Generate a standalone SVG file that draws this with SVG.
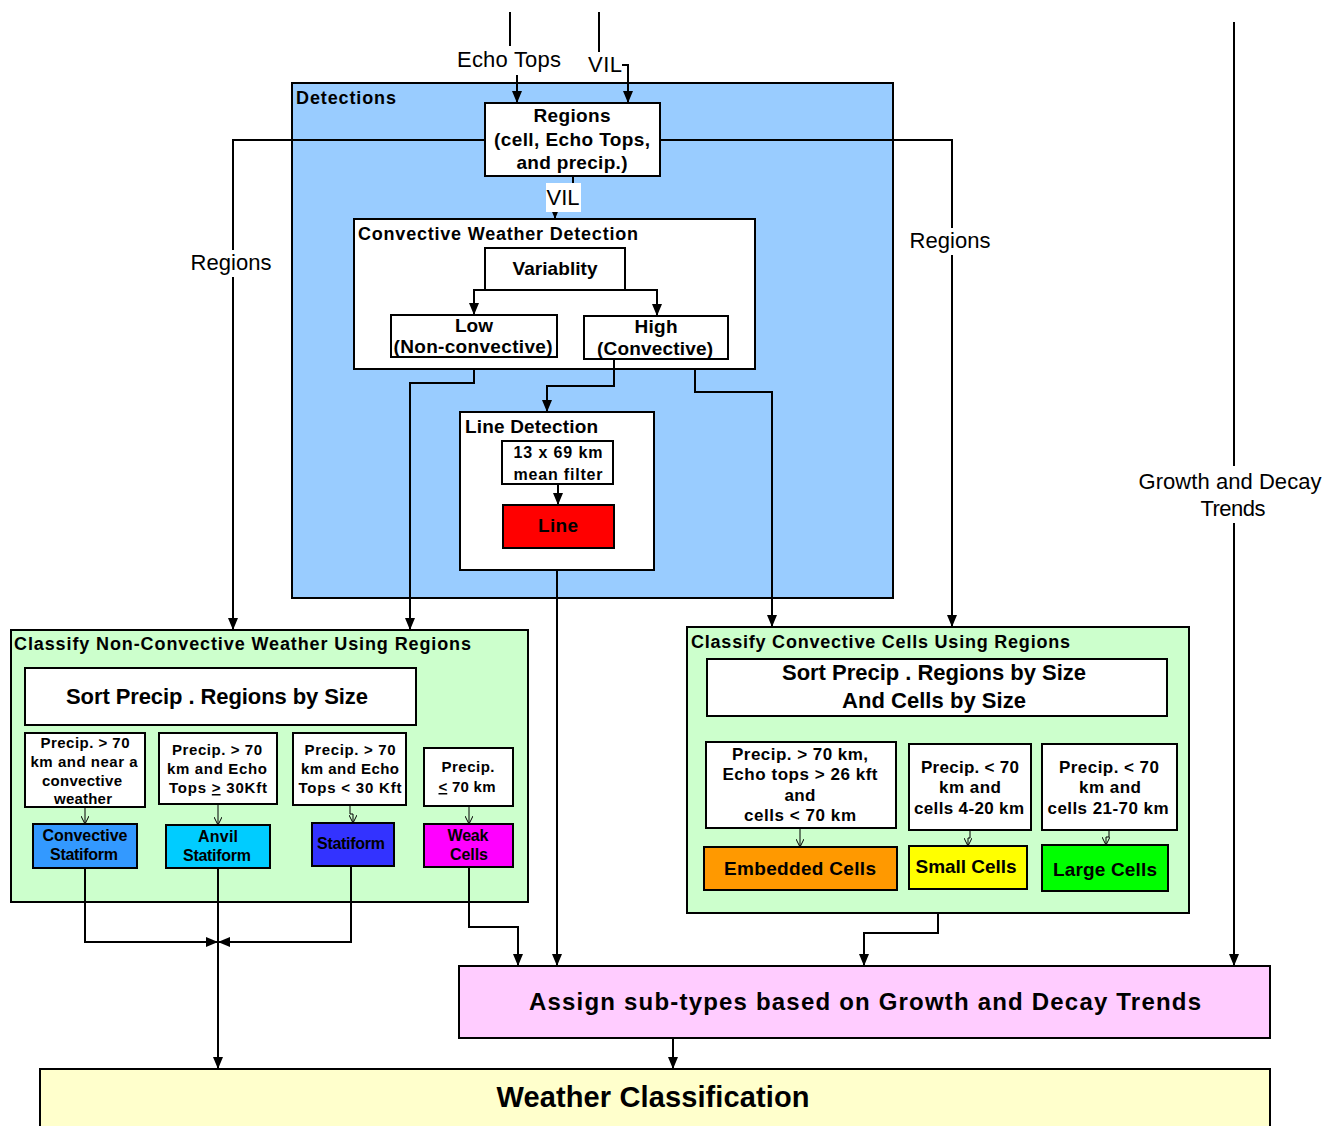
<svg xmlns="http://www.w3.org/2000/svg" width="1325" height="1126" viewBox="0 0 1325 1126">
<style>
.box{stroke:#000;stroke-width:2}
.w{fill:#fff}
.c{fill:none;stroke:#000;stroke-width:2}
.t{stroke:#000;stroke-width:1;fill:none}
.b{font-family:"Liberation Sans",Arial,sans-serif;font-weight:bold;fill:#000}
.r{font-family:"Liberation Sans",Arial,sans-serif;fill:#000;font-size:22px}
.m{text-anchor:middle}
</style>
<defs>
<marker id="ah" viewBox="0 0 12 10" refX="12" refY="5" markerWidth="12" markerHeight="10" markerUnits="userSpaceOnUse" orient="auto"><path d="M0,0 L12,5 L0,10 z" fill="#000"/></marker>
<marker id="sa" viewBox="0 0 8 8" refX="8" refY="4" markerWidth="8" markerHeight="8" markerUnits="userSpaceOnUse" orient="auto"><path d="M0,0 L8,4 L0,8" fill="none" stroke="#000" stroke-width="1"/></marker>
</defs>
<rect width="1325" height="1126" fill="#fff"/>

<g id="detections">
<rect class="box" x="292" y="83" width="601" height="515" fill="#99CCFF"/>
<text class="b" x="296" y="104" font-size="18" textLength="100" lengthAdjust="spacing">Detections</text>
</g>

<g id="regions">
<rect class="box w" x="485" y="103" width="175" height="73"/>
<text class="b m" x="572" y="122" font-size="19" textLength="77" lengthAdjust="spacing">Regions</text>
<text class="b m" x="572" y="146" font-size="19" textLength="156" lengthAdjust="spacing">(cell, Echo Tops,</text>
<text class="b m" x="572" y="169" font-size="19" textLength="111" lengthAdjust="spacing">and precip.)</text>
</g>

<g id="convective-weather-detection">
<rect class="box w" x="354" y="219" width="401" height="150"/>
<text class="b" x="358" y="240" font-size="18" textLength="280" lengthAdjust="spacing">Convective Weather Detection</text>
</g>
<g id="variability">
<rect class="box w" x="485" y="248" width="140" height="42"/>
<text class="b m" x="555" y="275" font-size="19" textLength="85" lengthAdjust="spacing">Variablity</text>
</g>
<g id="low">
<rect class="box w" x="391" y="315" width="166" height="42"/>
<text class="b m" x="474" y="332" font-size="19" textLength="38" lengthAdjust="spacing">Low</text>
<text class="b m" x="473" y="353" font-size="19" textLength="159" lengthAdjust="spacing">(Non-convective)</text>
</g>
<g id="high">
<rect class="box w" x="584" y="316" width="144" height="43"/>
<text class="b m" x="656" y="333" font-size="19" textLength="43" lengthAdjust="spacing">High</text>
<text class="b m" x="655" y="355" font-size="19" textLength="116" lengthAdjust="spacing">(Convective)</text>
</g>

<g id="line-detection">
<rect class="box w" x="460" y="412" width="194" height="158"/>
<text class="b" x="465" y="433" font-size="19" textLength="133" lengthAdjust="spacing">Line Detection</text>
</g>
<g id="mean-filter">
<rect class="box w" x="502" y="441" width="111" height="43"/>
<text class="b m" x="558" y="458" font-size="16" textLength="89" lengthAdjust="spacing">13 x 69 km</text>
<text class="b m" x="558" y="480" font-size="16" textLength="89" lengthAdjust="spacing">mean filter</text>
</g>
<g id="line">
<rect class="box" x="503" y="505" width="111" height="43" fill="#FF0000"/>
<text class="b m" x="558" y="532" font-size="19" textLength="40" lengthAdjust="spacing">Line</text>
</g>

<g id="classify-non-convective">
<rect class="box" x="11" y="630" width="517" height="272" fill="#CCFFCC"/>
<text class="b" x="14" y="650" font-size="18" textLength="457" lengthAdjust="spacing">Classify Non-Convective Weather Using Regions</text>
</g>
<g id="sort-left">
<rect class="box w" x="25" y="668" width="391" height="57"/>
<text class="b m" x="217" y="704" font-size="22" textLength="302" lengthAdjust="spacing">Sort Precip . Regions by Size</text>
</g>
<g id="nc1">
<rect class="box w" x="25" y="733" width="120" height="74"/>
<text class="b m" x="85" y="748" font-size="15" textLength="89" lengthAdjust="spacing">Precip. &gt; 70</text>
<text class="b m" x="84" y="767" font-size="15" textLength="107" lengthAdjust="spacing">km and near a</text>
<text class="b m" x="82" y="786" font-size="15" textLength="80" lengthAdjust="spacing">convective</text>
<text class="b m" x="83" y="804" font-size="15" textLength="58" lengthAdjust="spacing">weather</text>
</g>
<g id="nc2">
<rect class="box w" x="159" y="733" width="118" height="71"/>
<text class="b m" x="217" y="755" font-size="15" textLength="90" lengthAdjust="spacing">Precip. &gt; 70</text>
<text class="b m" x="217" y="774" font-size="15" textLength="100" lengthAdjust="spacing">km and Echo</text>
<text class="b m" x="218" y="793" font-size="15" textLength="98" lengthAdjust="spacing">Tops <tspan text-decoration="underline">&gt;</tspan> 30Kft</text>
</g>
<g id="nc3">
<rect class="box w" x="293" y="733" width="113" height="72"/>
<text class="b m" x="350" y="755" font-size="15" textLength="91" lengthAdjust="spacing">Precip. &gt; 70</text>
<text class="b m" x="350" y="774" font-size="15" textLength="98" lengthAdjust="spacing">km and Echo</text>
<text class="b m" x="350" y="793" font-size="15" textLength="103" lengthAdjust="spacing">Tops &lt; 30 Kft</text>
</g>
<g id="nc4">
<rect class="box w" x="424" y="748" width="89" height="58"/>
<text class="b m" x="468" y="772" font-size="15" textLength="53" lengthAdjust="spacing">Precip.</text>
<text class="b m" x="467" y="792" font-size="15" textLength="57" lengthAdjust="spacing"><tspan text-decoration="underline">&lt;</tspan> 70 km</text>
</g>
<g id="convective-statiform">
<rect class="box" x="33" y="824" width="104" height="44" fill="#3399FF"/>
<text class="b m" x="85" y="841" font-size="16" textLength="85" lengthAdjust="spacing">Convective</text>
<text class="b m" x="84" y="860" font-size="16" textLength="68" lengthAdjust="spacing">Statiform</text>
</g>
<g id="anvil-statiform">
<rect class="box" x="166" y="825" width="104" height="43" fill="#00CCFF"/>
<text class="b m" x="218" y="842" font-size="16" textLength="40" lengthAdjust="spacing">Anvil</text>
<text class="b m" x="217" y="861" font-size="16" textLength="68" lengthAdjust="spacing">Statiform</text>
</g>
<g id="statiform">
<rect class="box" x="312" y="823" width="82" height="43" fill="#3333FF"/>
<text class="b m" x="351" y="849" font-size="16" textLength="68" lengthAdjust="spacing">Statiform</text>
</g>
<g id="weak-cells">
<rect class="box" x="424" y="824" width="89" height="43" fill="#FF00FF"/>
<text class="b m" x="468" y="841" font-size="16" textLength="41" lengthAdjust="spacing">Weak</text>
<text class="b m" x="469" y="860" font-size="16" textLength="38" lengthAdjust="spacing">Cells</text>
</g>

<g id="classify-convective">
<rect class="box" x="687" y="627" width="502" height="286" fill="#CCFFCC"/>
<text class="b" x="691" y="648" font-size="18" textLength="379" lengthAdjust="spacing">Classify Convective Cells Using Regions</text>
</g>
<g id="sort-right">
<rect class="box w" x="707" y="659" width="460" height="57"/>
<text class="b m" x="934" y="680" font-size="22" textLength="304" lengthAdjust="spacing">Sort Precip . Regions by Size</text>
<text class="b m" x="934" y="708" font-size="22" textLength="184" lengthAdjust="spacing">And Cells by Size</text>
</g>
<g id="cc1">
<rect class="box w" x="706" y="742" width="190" height="86"/>
<text class="b m" x="800" y="760" font-size="17" textLength="136" lengthAdjust="spacing">Precip. &gt; 70 km,</text>
<text class="b m" x="800" y="780" font-size="17" textLength="155" lengthAdjust="spacing">Echo tops &gt; 26 kft</text>
<text class="b m" x="800" y="801" font-size="17" textLength="31" lengthAdjust="spacing">and</text>
<text class="b m" x="800" y="821" font-size="17" textLength="112" lengthAdjust="spacing">cells &lt; 70 km</text>
</g>
<g id="cc2">
<rect class="box w" x="909" y="744" width="122" height="86"/>
<text class="b m" x="970" y="773" font-size="17" textLength="98" lengthAdjust="spacing">Precip. &lt; 70</text>
<text class="b m" x="970" y="793" font-size="17" textLength="62" lengthAdjust="spacing">km and</text>
<text class="b m" x="969" y="814" font-size="17" textLength="110" lengthAdjust="spacing">cells 4-20 km</text>
</g>
<g id="cc3">
<rect class="box w" x="1042" y="744" width="135" height="86"/>
<text class="b m" x="1109" y="773" font-size="17" textLength="100" lengthAdjust="spacing">Precip. &lt; 70</text>
<text class="b m" x="1110" y="793" font-size="17" textLength="62" lengthAdjust="spacing">km and</text>
<text class="b m" x="1108" y="814" font-size="17" textLength="121" lengthAdjust="spacing">cells 21-70 km</text>
</g>
<g id="embedded-cells">
<rect class="box" x="704" y="847" width="193" height="43" fill="#FF9900"/>
<text class="b m" x="800" y="875" font-size="19" textLength="152" lengthAdjust="spacing">Embedded Cells</text>
</g>
<g id="small-cells">
<rect class="box" x="909" y="846" width="118" height="43" fill="#FFFF00"/>
<text class="b m" x="966" y="873" font-size="19" textLength="101" lengthAdjust="spacing">Small Cells</text>
</g>
<g id="large-cells">
<rect class="box" x="1042" y="845" width="126" height="46" fill="#00FF00"/>
<text class="b m" x="1105" y="876" font-size="19" textLength="104" lengthAdjust="spacing">Large Cells</text>
</g>

<g id="assign">
<rect class="box" x="459" y="966" width="811" height="72" fill="#FFCCFF"/>
<text class="b m" x="865" y="1010" font-size="24" textLength="672" lengthAdjust="spacing">Assign sub-types based on Growth and Decay Trends</text>
</g>
<g id="weather-classification">
<rect class="box" x="40" y="1069" width="1230" height="70" fill="#FFFFCC"/>
<text class="b m" x="653" y="1107" font-size="29" textLength="313" lengthAdjust="spacing">Weather Classification</text>
</g>

<g id="connectors">
<path class="c" d="M510 12 V46"/>
<path class="c" d="M517 75 V103" marker-end="url(#ah)"/>
<path class="c" d="M599 12 V52"/>
<path class="c" d="M622 65 H628 V103" marker-end="url(#ah)"/>
<path class="c" d="M485 140 H233 V630" marker-end="url(#ah)"/>
<path class="c" d="M660 140 H952 V627" marker-end="url(#ah)"/>
<path class="c" d="M573 176 V196 H555 V219" marker-end="url(#ah)"/>
<path class="c" d="M485 248 V290 H474 V315" marker-end="url(#ah)"/>
<path class="c" d="M625 248 V290 H657 V316" marker-end="url(#ah)"/>
<path class="c" d="M474 369 V383 H410 V630" marker-end="url(#ah)"/>
<path class="c" d="M614 359 V386 H547 V412" marker-end="url(#ah)"/>
<path class="c" d="M695 369 V392 H772 V627" marker-end="url(#ah)"/>
<path class="c" d="M558 484 V505" marker-end="url(#ah)"/>
<path class="c" d="M557 570 V966" marker-end="url(#ah)"/>
<path class="c" d="M1234 22 V966" marker-end="url(#ah)"/>
<path class="t" d="M85 807 V824" marker-end="url(#sa)"/>
<path class="t" d="M218 804 V825" marker-end="url(#sa)"/>
<path class="t" d="M350 805 V814 H353 V823" marker-end="url(#sa)"/>
<path class="t" d="M469 806 V824" marker-end="url(#sa)"/>
<path class="t" d="M800 828 V847" marker-end="url(#sa)"/>
<path class="t" d="M970 830 V838 H968 V846" marker-end="url(#sa)"/>
<path class="t" d="M1109 830 V837 H1106 V845" marker-end="url(#sa)"/>
<path class="c" d="M85 868 V942 H218" marker-end="url(#ah)"/>
<path class="c" d="M351 866 V942 H218" marker-end="url(#ah)"/>
<path class="c" d="M218 868 V1069" marker-end="url(#ah)"/>
<path class="c" d="M469 867 V927 H518 V966" marker-end="url(#ah)"/>
<path class="c" d="M938 913 V933 H864 V966" marker-end="url(#ah)"/>
<path class="c" d="M673 1038 V1069" marker-end="url(#ah)"/>
<rect x="452" y="47" width="114" height="26" fill="#fff"/>
<text class="r m" x="509" y="67" textLength="104" lengthAdjust="spacing">Echo Tops</text>
<text class="r" x="588" y="72" textLength="34" lengthAdjust="spacing">VIL</text>
<rect x="546" y="183" width="35" height="29" fill="#fff"/>
<text class="r m" x="563" y="205" textLength="33" lengthAdjust="spacing">VIL</text>
<rect x="188" y="250" width="88" height="27" fill="#fff"/>
<text class="r m" x="231" y="270" textLength="81" lengthAdjust="spacing">Regions</text>
<rect x="907" y="228" width="88" height="27" fill="#fff"/>
<text class="r m" x="950" y="248" textLength="81" lengthAdjust="spacing">Regions</text>
<rect x="1136" y="466" width="190" height="57" fill="#fff"/>
<text class="r m" x="1230" y="489" textLength="183" lengthAdjust="spacing">Growth and Decay</text>
<text class="r m" x="1233" y="516" textLength="65" lengthAdjust="spacing">Trends</text>
</g>
</svg>
